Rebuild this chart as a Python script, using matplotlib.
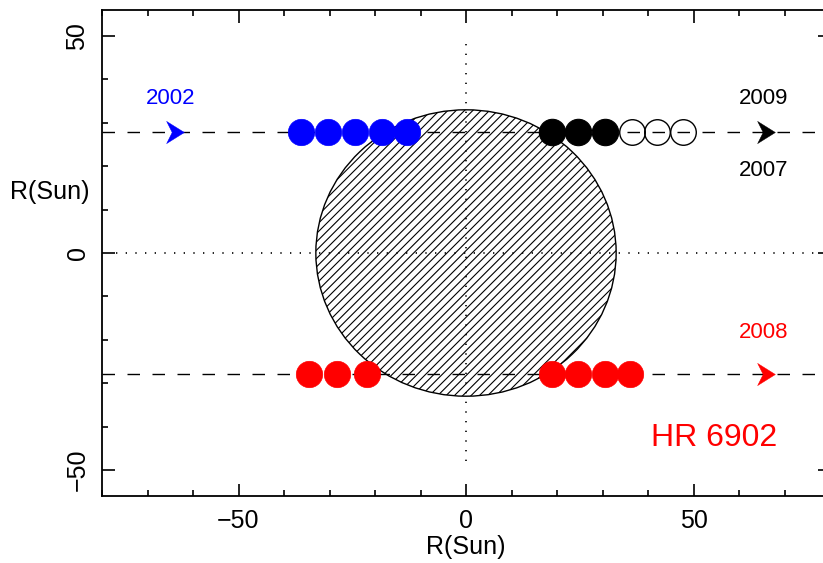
import matplotlib
matplotlib.use("Agg")
import matplotlib.pyplot as plt
from matplotlib.patches import Circle
from matplotlib.path import Path
from matplotlib.ticker import MultipleLocator

plt.rcParams['font.family'] = ['Liberation Sans', 'DejaVu Sans']
plt.rcParams['hatch.linewidth'] = 0.8

# Orbit tracks (R_sun) and yearly positions
track_upper_y = 27.8
track_lower_y = -27.8
star_radius = 33.0

blue_x = [-36.3, -30.4, -24.4, -18.5, -13.0]          # 2002
black_filled_x = [18.9, 24.7, 30.6]                    # 2009
black_open_x = [36.5, 42.0, 47.8]                      # 2007
red_x = [-34.5, -28.4, -21.8, 18.9, 24.7, 30.6, 36.1]  # 2008

arrow_x = {'blue': -64.0, 'black': 66.0, 'red': 66.0}

year_labels = [
    ("2002", -65.0, 35.7, 'blue'),
    ("2009", 65.5, 35.7, 'black'),
    ("2007", 65.5, 19.1, 'black'),
    ("2008", 65.5, -18.4, 'red'),
]
star_name = "HR 6902"

xlim = (-80, 80)
ylim = (-56, 56)

W, H = 823, 563
fig = plt.figure(figsize=(W / 100, H / 100), dpi=100)
ax = fig.add_axes([102 / W, 67 / H, 728 / W, 486 / H])
ax.set_xlim(*xlim)
ax.set_ylim(*ylim)

# hatched stellar disk
disk = Circle((0, 0), star_radius, facecolor='none', edgecolor='black',
              hatch='////', linewidth=1.0, zorder=2)
ax.add_patch(disk)

# reference cross
ax.plot([-77, 78], [0, 0], color='black', lw=1.2, dashes=(0.8, 5), zorder=1)
ax.plot([0, 0], [-48, 49], color='black', lw=1.2, dashes=(0.8, 5), zorder=1)

# dashed orbit tracks
for yy in (track_upper_y, track_lower_y):
    ax.plot(list(xlim), [yy, yy], color='black', lw=1.0, dashes=(9, 9), zorder=1)

ms = 19
ax.plot(blue_x, [track_upper_y] * len(blue_x), 'o', color='blue', ms=ms,
        mec='blue', mew=0.5, zorder=4)
ax.plot(black_filled_x, [track_upper_y] * len(black_filled_x), 'o', color='black',
        ms=ms, mec='black', mew=0.8, zorder=4)
ax.plot(black_open_x, [track_upper_y] * len(black_open_x), 'o', mfc='none',
        mec='black', ms=ms - 0.6, mew=1.0, zorder=4)
ax.plot(red_x, [track_lower_y] * len(red_x), 'o', color='red', ms=ms,
        mec='red', mew=0.5, zorder=4)

# direction arrows
arrow = Path([(-0.8, 1.0), (0.8, 0.0), (-0.8, -1.0), (-0.3, 0.0), (-0.8, 1.0)],
             [Path.MOVETO, Path.LINETO, Path.LINETO, Path.LINETO, Path.CLOSEPOLY])
ax.plot([arrow_x['blue']], [track_upper_y], marker=arrow, ms=16, color='blue',
        mec='blue', mew=0.3, ls='none', zorder=5)
ax.plot([arrow_x['black']], [track_upper_y], marker=arrow, ms=16, color='black',
        mec='black', mew=0.3, ls='none', zorder=5)
ax.plot([arrow_x['red']], [track_lower_y], marker=arrow, ms=16, color='red',
        mec='red', mew=0.3, ls='none', zorder=5)

for txt, x, y, c in year_labels:
    ax.text(x, y, txt, color=c, fontsize=16, ha='center', va='center', zorder=6)

ax.text(54.5, -42.6, star_name, color='red', fontsize=23, ha='center',
        va='center', zorder=6)

# axes styling
ax.xaxis.set_major_locator(MultipleLocator(50))
ax.xaxis.set_minor_locator(MultipleLocator(10))
ax.yaxis.set_major_locator(MultipleLocator(50))
ax.yaxis.set_minor_locator(MultipleLocator(10))
ax.tick_params(which='both', direction='in', top=True, right=True, width=1.2)
ax.tick_params(which='major', length=9, labelsize=18, pad=9)
ax.tick_params(which='minor', length=4.5)
for sp in ax.spines.values():
    sp.set_linewidth(1.3)
for lbl in ax.get_yticklabels():
    lbl.set_rotation(90)
    lbl.set_va('center')

ax.set_xlabel("R(Sun)", fontsize=18, labelpad=2)
ax.set_ylabel("R(Sun)", fontsize=18, rotation=0, ha='center', va='center')
ax.yaxis.set_label_coords(-52 / 728, (486 - (192 - 10)) / 486)

fig.savefig("out.png", dpi=100)
